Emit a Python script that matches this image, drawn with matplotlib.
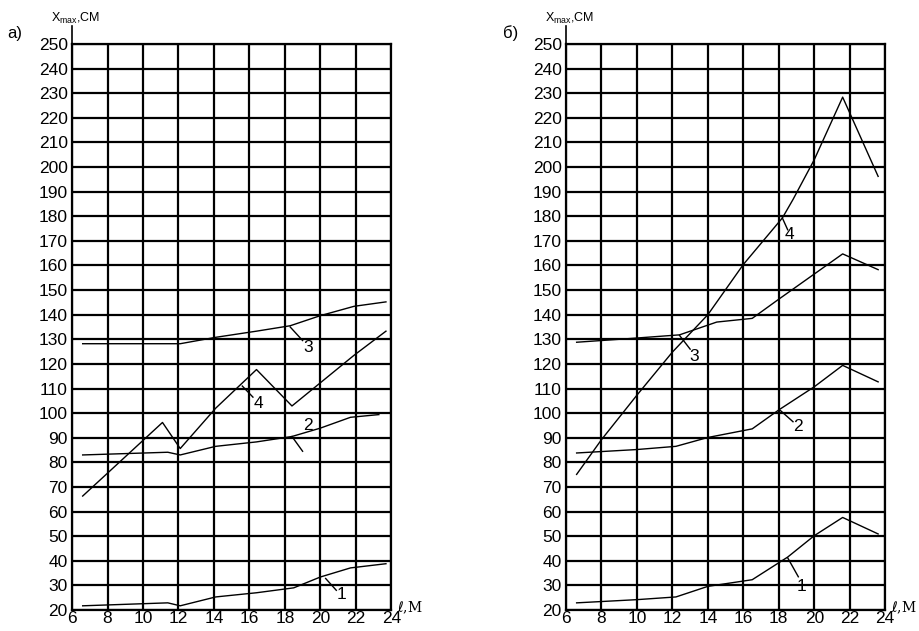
import numpy as np
import matplotlib.pyplot as plt

plt.rcParams['font.family'] = ['Liberation Sans', 'DejaVu Sans']

# panel a)
a_x1 = [6.6, 11.4, 12.1, 14.1, 16.4, 18.5, 20.0, 21.7, 23.7]
a_y1 = [21.7, 22.9, 21.7, 25.3, 27.0, 29.0, 33.4, 37.1, 38.8]
a_x2 = [6.6, 11.4, 12.1, 14.1, 16.4, 18.4, 20.0, 21.7, 23.3]
a_y2 = [83.0, 84.1, 83.0, 86.5, 88.3, 90.5, 93.9, 98.3, 99.4]
a_x3 = [6.6, 12.1, 14.1, 16.4, 18.3, 20.0, 21.9, 23.7]
a_y3 = [128.2, 128.2, 130.8, 133.3, 135.5, 139.6, 143.4, 145.2]
a_x4 = [6.6, 11.1, 12.1, 14.1, 16.4, 18.4, 21.9, 23.7]
a_y4 = [66.3, 96.2, 85.6, 102.0, 117.7, 102.9, 123.5, 133.3]

# panel б)
b_x1 = [6.6, 10.0, 12.2, 14.0, 16.5, 18.5, 20.0, 21.6, 23.6]
b_y1 = [22.9, 24.2, 25.3, 29.6, 32.3, 41.5, 50.2, 57.6, 50.9]
b_x2 = [6.6, 10.0, 12.2, 14.0, 16.5, 18.0, 20.0, 21.6, 23.6]
b_y2 = [83.8, 85.2, 86.5, 90.1, 93.6, 101.3, 110.7, 119.4, 112.7]
b_x3 = [6.6, 9.4, 12.4, 14.5, 16.5, 18.0, 21.6, 23.6]
b_y3 = [128.8, 130.2, 131.8, 137.0, 138.5, 146.3, 164.7, 158.3]
b_x4 = [6.6, 8.0, 10.0, 12.0, 14.0, 16.0, 18.2, 18.8, 20.0, 21.6, 23.6]
b_y4 = [75.1, 89.2, 107.3, 124.8, 140.0, 160.4, 179.3, 186.8, 203.0, 228.4, 196.2]

curve_names = ["1", "2", "3", "4"]
x_ticks = list(range(6, 25, 2))
y_ticks = list(range(20, 251, 10))

# leader lines: (curve point, line end, text position)
a_leaders = [((20.3, 32.8), (20.9, 28.0), (21.2, 26.3)),
             ((18.4, 90.5), (19.0, 84.5), (19.3, 94.8)),
             ((18.3, 135.0), (19.0, 129.5), (19.3, 126.8)),
             ((15.6, 111.0), (16.2, 106.5), (16.5, 104.0))]
b_leaders = [((18.5, 41.2), (19.1, 33.5), (19.3, 29.4)),
             ((18.1, 101.0), (18.8, 96.5), (19.1, 94.6)),
             ((12.4, 131.6), (13.0, 126.0), (13.2, 123.2)),
             ((18.2, 179.3), (18.5, 174.5), (18.6, 172.6))]


def setup_axes(ax, letter, lx):
    ax.set_xlim(6, 24)
    ax.set_ylim(20, 250)
    ax.set_xticks(x_ticks)
    ax.set_yticks(y_ticks)
    ax.grid(True, color='black', linewidth=1.6)
    for s in ax.spines.values():
        s.set_linewidth(1.6)
    ax.tick_params(length=0, labelsize=12.5, pad=3)
    ax.tick_params(axis='x', pad=0.5)
    # y axis extended up with the label
    ax.plot([6, 6], [250, 257.5], color='black', lw=1.2, clip_on=False)
    ax.text(4.8, 257.5, "X$_{\\mathregular{max}}$,СМ", fontsize=9, ha='left', va='bottom')
    ax.text(24.35, 21.0, "$\\ell$,M", fontsize=10, family=['DejaVu Serif', 'DejaVu Sans'],
            ha='left', va='center')
    fig.text(lx, 0.947, letter, fontsize=12, ha='left', va='center')


fig = plt.figure(figsize=(9.2, 6.31), dpi=100)
ax_a = fig.add_axes([0.0783, 0.0333, 0.347, 0.8970])
ax_b = fig.add_axes([0.6152, 0.0333, 0.347, 0.8970])

setup_axes(ax_a, "а)", 0.008)
setup_axes(ax_b, "б)", 0.547)

for ax, curves, leaders in [
        (ax_a, [(a_x1, a_y1), (a_x2, a_y2), (a_x3, a_y3), (a_x4, a_y4)], a_leaders),
        (ax_b, [(b_x1, b_y1), (b_x2, b_y2), (b_x3, b_y3), (b_x4, b_y4)], b_leaders)]:
    for (xs, ys), name, (p0, p1, pt) in zip(curves, curve_names, leaders):
        ax.plot(xs, ys, color='black', lw=1.0)
        ax.plot([p0[0], p1[0]], [p0[1], p1[1]], color='black', lw=1.0)
        ax.text(pt[0], pt[1], name, fontsize=12.5, ha='center', va='center')

fig.savefig("out.png", dpi=100)
